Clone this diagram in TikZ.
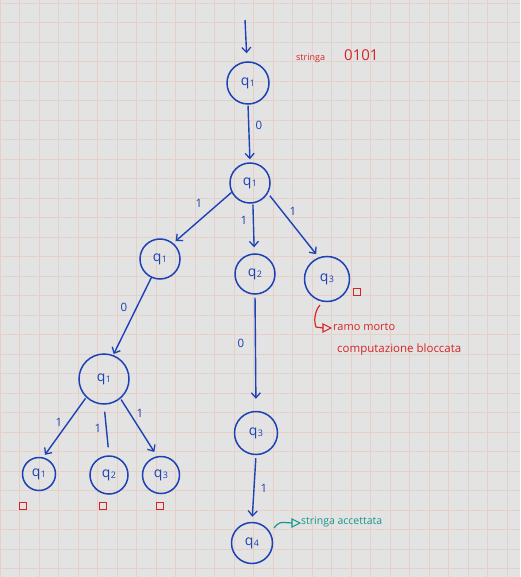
\documentclass[tikz,border=0pt]{standalone}
\usepackage{fontspec}
\setmainfont{Open Sans}
\usetikzlibrary{arrows.meta}
\definecolor{bg}{RGB}{227,227,227}
\definecolor{gridc}{RGB}{228,208,198}
\definecolor{inkblue}{RGB}{28,66,182}
\definecolor{inkred}{RGB}{214,36,36}
\definecolor{inkteal}{RGB}{22,150,140}
\newcommand{\qlab}[1]{q\kern0.3pt\lower1.8pt\hbox{\fontsize{9}{10}\selectfont #1}}
\tikzset{
  gridline/.style={gridc, line width=0.9pt},
  state/.style={circle, draw=inkblue, line width=1.5pt, inner sep=0pt, text=inkblue, font=\fontsize{14}{16}\selectfont},
  edge/.style={inkblue, line width=1.4pt, -{Straight Barb[length=5pt,width=9pt,line width=1.3pt]}},
  plainedge/.style={inkblue, line width=1.4pt},
  elabel/.style={inkblue, font=\fontsize{11.5}{13}\selectfont, inner sep=0pt},
  deadbox/.style={draw=inkred, line width=1.1pt, minimum width=7pt, minimum height=6.5pt, inner sep=0pt},
  rednote/.style={inkred, inner sep=0pt, anchor=west},
  tealnote/.style={inkteal, inner sep=0pt, anchor=west}
}
\begin{document}
\begin{tikzpicture}[x=1pt,y=-1pt]
\fill[bg] (0,0) rectangle (520,577);
\useasboundingbox (0,0) rectangle (520,577);
\foreach \i in {0,...,26} \draw[gridline] (\i*19.5,0) -- (\i*19.5,577);
\foreach \j in {0,...,29} \draw[gridline] (0,3+\j*19.5) -- (520,3+\j*19.5);

% states
\node[state, minimum size=42pt] (a) at (248,83) {\qlab{1}};
\node[state, minimum size=40pt] (b) at (250,183) {\qlab{1}};
\node[state, minimum size=40pt] (c) at (160,259) {\qlab{1}};
\node[state, minimum size=40pt] (d) at (255,274) {\qlab{2}};
\node[state, minimum size=45pt] (e) at (327,279) {\qlab{3}};
\node[state, minimum size=50pt] (f) at (104,379) {\qlab{1}};
\node[state, minimum size=33pt] (g) at (39,474) {\qlab{1}};
\node[state, minimum size=38pt] (h) at (109,475) {\qlab{2}};
\node[state, minimum size=37pt] (i) at (161,475) {\qlab{3}};
\node[state, minimum size=43pt] (j) at (256,433) {\qlab{3}};
\node[state, minimum size=41pt] (k) at (252,543) {\qlab{4}};

% start arrow
\coordinate (s) at (245,20);
\draw[edge, shorten >=8pt] (s) -- (a);

% edges
\draw[edge, shorten <=1pt, shorten >=3pt] (a.south) -- (b.north);
\draw[edge, shorten >=3pt] (b.207) -- (c.50);
\draw[edge, shorten <=1pt, shorten >=6pt] (b.278) -- (d.92);
\draw[edge, shorten <=3pt, shorten >=4pt] (b.330) -- (e.111);
\draw[edge, shorten >=1pt] (c.245) -- (f.69);
\draw[edge, shorten <=3pt, shorten >=12pt] (d.south) -- (j.north);
\draw[edge, shorten <=3pt, shorten >=5pt] (j.south) -- (k.north);
\draw[edge, shorten <=1pt, shorten >=3pt] (f.226) -- (g.76);
\draw[plainedge, shorten <=7pt, shorten >=8pt] (f.south) -- (h.north);
\draw[edge, shorten <=1pt, shorten >=5pt] (f.310) -- (i.102);

% edge labels
\node[elabel] (l1) at (259,125) {0};
\node[elabel] (l2) at (199,203) {1};
\node[elabel] (l3) at (244,220) {1};
\node[elabel] (l4) at (293,211) {1};
\node[elabel] (l5) at (124,307) {0};
\node[elabel] (l6) at (241,343) {0};
\node[elabel] (l7) at (264,488) {1};
\node[elabel] (l8) at (59,422) {1};
\node[elabel] (l9) at (98,428) {1};
\node[elabel] (l10) at (140,413) {1};

% dead-end boxes
\node[deadbox] (x1) at (357,292) {};
\node[deadbox] (x2) at (23,506) {};
\node[deadbox] (x3) at (103,506) {};
\node[deadbox] (x4) at (160,506) {};

% notes
\node[rednote, font=\fontsize{9}{10}\selectfont] (n1) at (296,58) {stringa};
\node[rednote, font=\fontsize{15}{17}\selectfont] (n2) at (344,55) {0101};

\coordinate (r0) at (320,305);
\coordinate (r1) at (323,328);
\draw[inkred, line width=1.2pt] (r0) .. controls (314,312) and (314,322) .. (316,327) -- (r1);
\draw[inkred, line width=1.1pt] (r1) ++(0,-4) -- ++(8,4) -- ++(-8,4) -- cycle;
\node[rednote, font=\fontsize{11}{13}\selectfont] (n3) at (333,327) {ramo morto};
\node[rednote, font=\fontsize{11.5}{13}\selectfont] (n4) at (337,350) {computazione bloccata};

\coordinate (t0) at (274,528);
\coordinate (t1) at (292,523);
\draw[inkteal, line width=1.2pt] (t0) .. controls (279,522) .. (t1);
\draw[inkteal, line width=1.1pt] (t1) ++(0,-4) -- ++(8,4) -- ++(-8,4) -- cycle;
\node[tealnote, font=\fontsize{10.5}{12}\selectfont] (n5) at (301,522) {stringa accettata};
\end{tikzpicture}
\end{document}
